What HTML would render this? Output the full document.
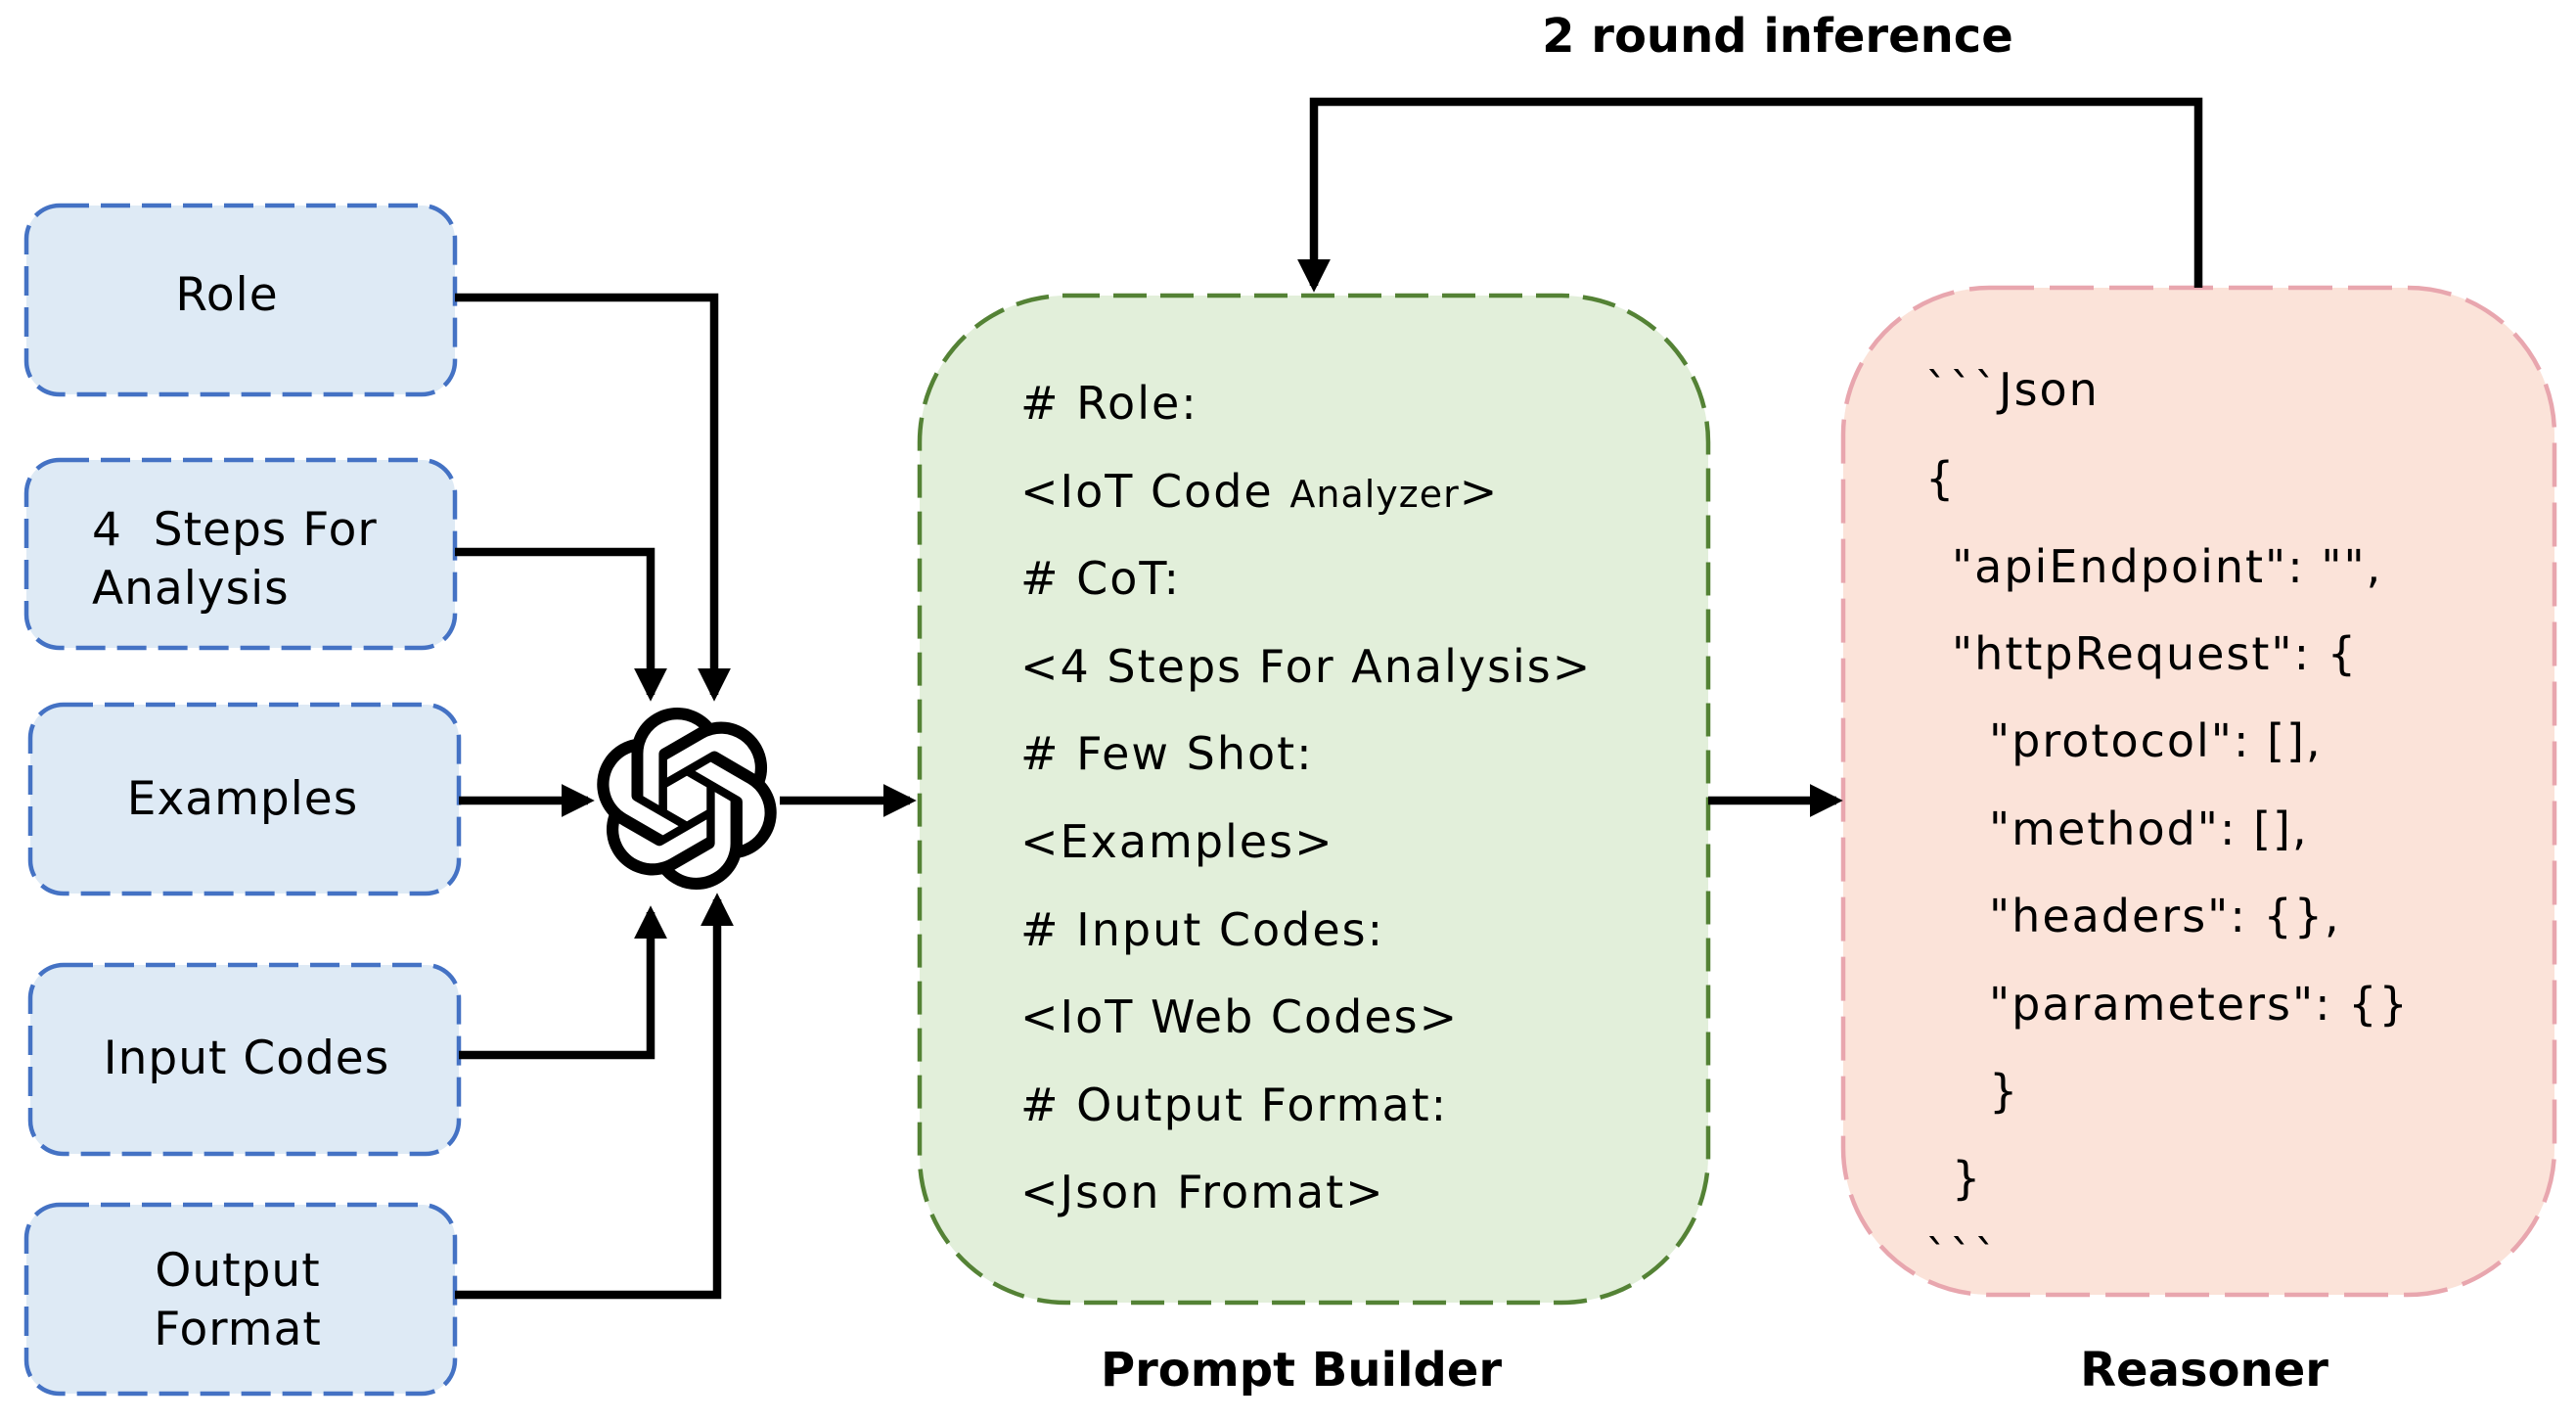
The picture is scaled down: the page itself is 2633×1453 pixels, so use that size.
<!DOCTYPE html>
<html><head><meta charset="utf-8"><style>
html,body{margin:0;padding:0;background:#fff;}
svg{display:block;}
text{font-family:"DejaVu Sans","Liberation Sans",sans-serif;fill:#000;}
</style></head><body>
<svg width="2633" height="1453" viewBox="0 0 2633 1453" xmlns="http://www.w3.org/2000/svg">
<defs>
<marker id="ah" markerWidth="4" markerHeight="4" refX="3.2" refY="2" orient="auto" markerUnits="strokeWidth">
<path d="M0,0 L4,2 L0,4 Z" fill="#000"/></marker>
</defs>
<g fill="#deeaf5" stroke="#4472c4" stroke-width="4.5" stroke-dasharray="30 12">
<rect x="27" y="210" width="438" height="193" rx="34"/>
<rect x="27" y="470" width="438" height="192" rx="34"/>
<rect x="31" y="720" width="438" height="193" rx="34"/>
<rect x="31" y="986" width="438" height="193" rx="34"/>
<rect x="27" y="1231" width="438" height="193" rx="34"/>
</g>
<g font-size="47" letter-spacing="1">
<text x="232" y="317" text-anchor="middle">Role</text>
<text x="94" y="557">4&#160;&#160;Steps For</text>
<text x="94" y="617">Analysis</text>
<text x="248" y="832" text-anchor="middle">Examples</text>
<text x="252" y="1097" text-anchor="middle">Input Codes</text>
<text x="243" y="1314" text-anchor="middle">Output</text>
<text x="243" y="1374" text-anchor="middle">Format</text>
</g>
<rect x="940" y="302" width="806" height="1029" rx="150" fill="#e2efda" stroke="#548235" stroke-width="4.5" stroke-dasharray="34 14"/>
<g font-size="46" letter-spacing="2">
<text x="1043" y="428"># Role:</text>
<text x="1043" y="518">&lt;IoT Code <tspan font-size="38" letter-spacing="1">Analyzer</tspan>&gt;</text>
<text x="1043" y="607"># CoT:</text>
<text x="1043" y="697">&lt;4 Steps For Analysis&gt;</text>
<text x="1043" y="786"># Few Shot:</text>
<text x="1043" y="876">&lt;Examples&gt;</text>
<text x="1043" y="966"># Input Codes:</text>
<text x="1043" y="1055">&lt;IoT Web Codes&gt;</text>
<text x="1043" y="1145"># Output Format:</text>
<text x="1043" y="1234">&lt;Json Fromat&gt;</text>
</g>
<rect x="1884" y="294" width="727" height="1029" rx="150" fill="#fbe3d9" stroke="#e8a6ae" stroke-width="4.5" stroke-dasharray="45 16"/>
<g font-size="46" letter-spacing="2">
<text x="1968" y="414">&#96;&#96;&#96;Json</text>
<text x="1968" y="505">{</text>
<text x="1995" y="595">"apiEndpoint": "",</text>
<text x="1995" y="684">"httpRequest": {</text>
<text x="2033" y="773">"protocol": [],</text>
<text x="2033" y="863">"method": [],</text>
<text x="2033" y="952">"headers": {},</text>
<text x="2033" y="1042">"parameters": {}</text>
<text x="2033" y="1131">}</text>
<text x="1995" y="1220">}</text>
<text x="1968" y="1300">&#96;&#96;&#96;</text>
</g>
<g font-size="48" font-weight="bold">
<text x="1817" y="53" text-anchor="middle">2 round inference</text>
<text x="1330" y="1416" text-anchor="middle">Prompt Builder</text>
<text x="2253" y="1416" text-anchor="middle">Reasoner</text>
</g>
<g fill="none" stroke="#000" stroke-width="8.5" stroke-linejoin="miter">
<path d="M465,304 H730 V710" marker-end="url(#ah)"/>
<path d="M465,564 H665 V710" marker-end="url(#ah)"/>
<path d="M469,818 H601" marker-end="url(#ah)"/>
<path d="M469,1078 H665 V932" marker-end="url(#ah)"/>
<path d="M465,1323 H733 V919" marker-end="url(#ah)"/>
<path d="M797,818 H930" marker-end="url(#ah)"/>
<path d="M1746,818 H1877" marker-end="url(#ah)"/>
<path d="M2247,294 V104 H1343 V292" marker-end="url(#ah)"/>
</g>
<g transform="translate(609,723) scale(7.75)">
<path fill="#000" d="M22.2819 9.8211a5.9847 5.9847 0 0 0-.5157-4.9108 6.0462 6.0462 0 0 0-6.5098-2.9A6.0651 6.0651 0 0 0 4.9807 4.1818a5.9847 5.9847 0 0 0-3.9977 2.9 6.0462 6.0462 0 0 0 .7427 7.0966 5.98 5.98 0 0 0 .511 4.9107 6.051 6.051 0 0 0 6.5146 2.9001A5.9847 5.9847 0 0 0 13.2599 24a6.0557 6.0557 0 0 0 5.7718-4.2058 5.9894 5.9894 0 0 0 3.9977-2.9001 6.0557 6.0557 0 0 0-.7475-7.0729zm-9.022 12.6081a4.4755 4.4755 0 0 1-2.8764-1.0408l.1419-.0804 4.7783-2.7582a.7948.7948 0 0 0 .3927-.6813v-6.7369l2.02 1.1686a.071.071 0 0 1 .038.052v5.5826a4.504 4.504 0 0 1-4.4945 4.4944zm-9.6607-4.1254a4.4708 4.4708 0 0 1-.5346-3.0137l.142.0852 4.783 2.7582a.7712.7712 0 0 0 .7806 0l5.8428-3.3685v2.3324a.0804.0804 0 0 1-.0332.0615L9.74 19.9502a4.4992 4.4992 0 0 1-6.1408-1.6464zM2.3408 7.8956a4.485 4.485 0 0 1 2.3655-1.9728V11.6a.7664.7664 0 0 0 .3879.6765l5.8144 3.3543-2.0201 1.1685a.0757.0757 0 0 1-.071 0l-4.8303-2.7865A4.504 4.504 0 0 1 2.3408 7.872zm16.5963 3.8558L13.1038 8.364 15.1192 7.2a.0757.0757 0 0 1 .071 0l4.8303 2.7913a4.4944 4.4944 0 0 1-.6765 8.1042v-5.6772a.79.79 0 0 0-.407-.667zm2.0107-3.0231l-.142-.0852-4.7735-2.7818a.7759.7759 0 0 0-.7854 0L9.409 9.2297V6.8974a.0662.0662 0 0 1 .0284-.0615l4.8303-2.7866a4.4992 4.4992 0 0 1 6.6802 4.66zM8.3065 12.863l-2.02-1.1638a.0804.0804 0 0 1-.038-.0567V6.0742a4.4992 4.4992 0 0 1 7.3757-3.4537l-.142.0805L8.704 5.459a.7948.7948 0 0 0-.3927.6813zm1.0976-2.3654l2.602-1.4998 2.6069 1.4998v2.9994l-2.5974 1.4997-2.6067-1.4997Z"/>
</g>
</svg>
</body></html>
